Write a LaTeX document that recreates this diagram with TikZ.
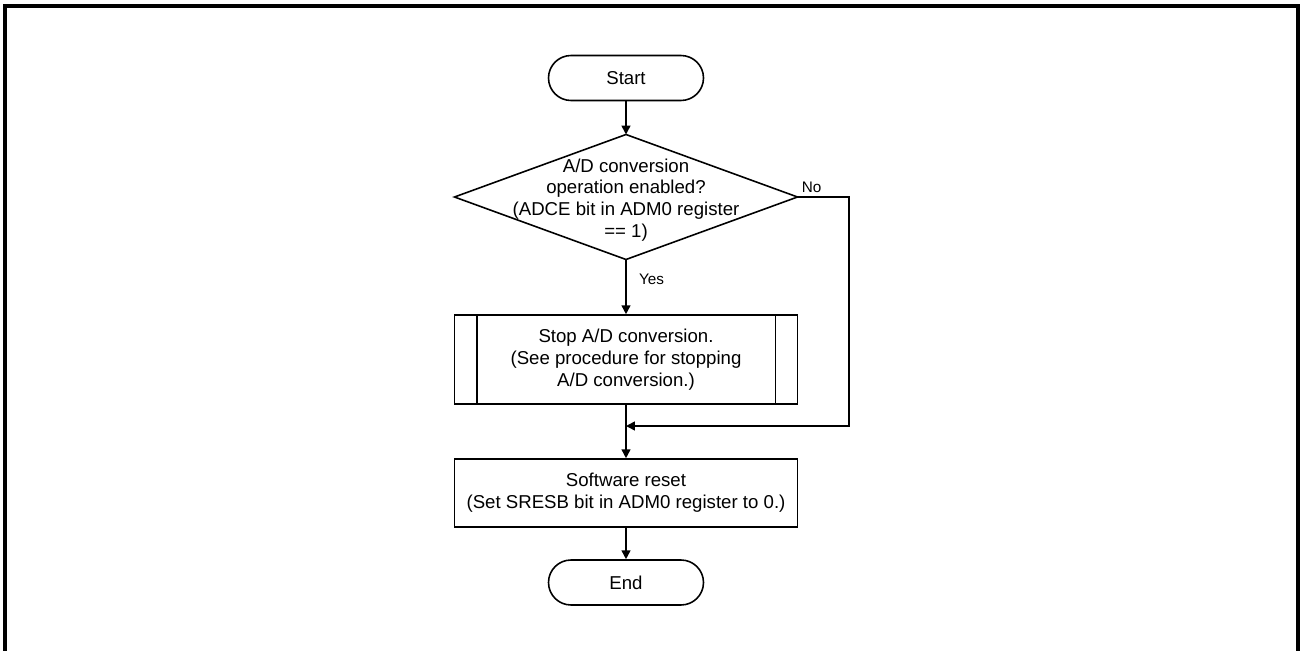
\documentclass[tikz,border=0pt]{standalone}
\usepackage{fontspec}
\setmainfont{Liberation Sans}
\usetikzlibrary{arrows.meta,positioning}
\definecolor{ink}{HTML}{000000}

\begin{document}
\begin{tikzpicture}[>={Triangle[length=5pt,width=5pt]},line width=.9pt,color=ink,
  every node/.style={font=\fontsize{10.6}{12.4}\selectfont,align=center},
  small/.style={font=\fontsize{8.7}{10}\selectfont},
  term/.style={draw,rounded corners=.45cm,minimum width=3.1cm,minimum height=.9cm},
  proc/.style={draw,minimum width=6.86cm,minimum height=1.36cm}]
\useasboundingbox (0,0) rectangle (26,-13.02);
\draw[line width=1.8pt] (.1,-14) -- (.1,-.12) -- (25.96,-.12) -- (25.96,-14);
% shapes
\node[term] (start) at (12.52,-1.56) {Start};
\node (dec) at (12.52,-4.0) {A/D conversion\\operation enabled?\\(ADCE bit in ADM0 register\\== 1)};
\draw (12.52,-2.69) coordinate (dtop) -- (15.95,-3.94) coordinate (dright)
  -- (12.52,-5.19) coordinate (dbot) -- (9.09,-3.94) -- cycle;
\node[proc,minimum height=1.78cm] (sub) at (12.52,-7.19) {Stop A/D conversion.\\(See procedure for stopping\\A/D conversion.)};
\draw ([xshift=.46cm]sub.north west) -- ([xshift=.46cm]sub.south west);
\draw ([xshift=-.46cm]sub.north east) -- ([xshift=-.46cm]sub.south east);
\coordinate (join) at (12.52,-8.52);
\node[proc] (reset) at (12.52,-9.86) {Software reset\\(Set SRESB bit in ADM0 register to 0.)};
\node[term] (fin) at (12.52,-11.65) {End};
% connectors
\draw[->] (start) -- (dtop);
\draw[->] (dbot) -- node[right,pos=.36,xshift=.13cm,small]{Yes} (sub);
\draw[->] (dright) node[above right,inner sep=2pt,small]{No} -- (16.98,-3.94) |- (join);
\draw[->] (sub) -- (reset);
\draw[->] (reset) -- (fin);
\end{tikzpicture}
\end{document}
